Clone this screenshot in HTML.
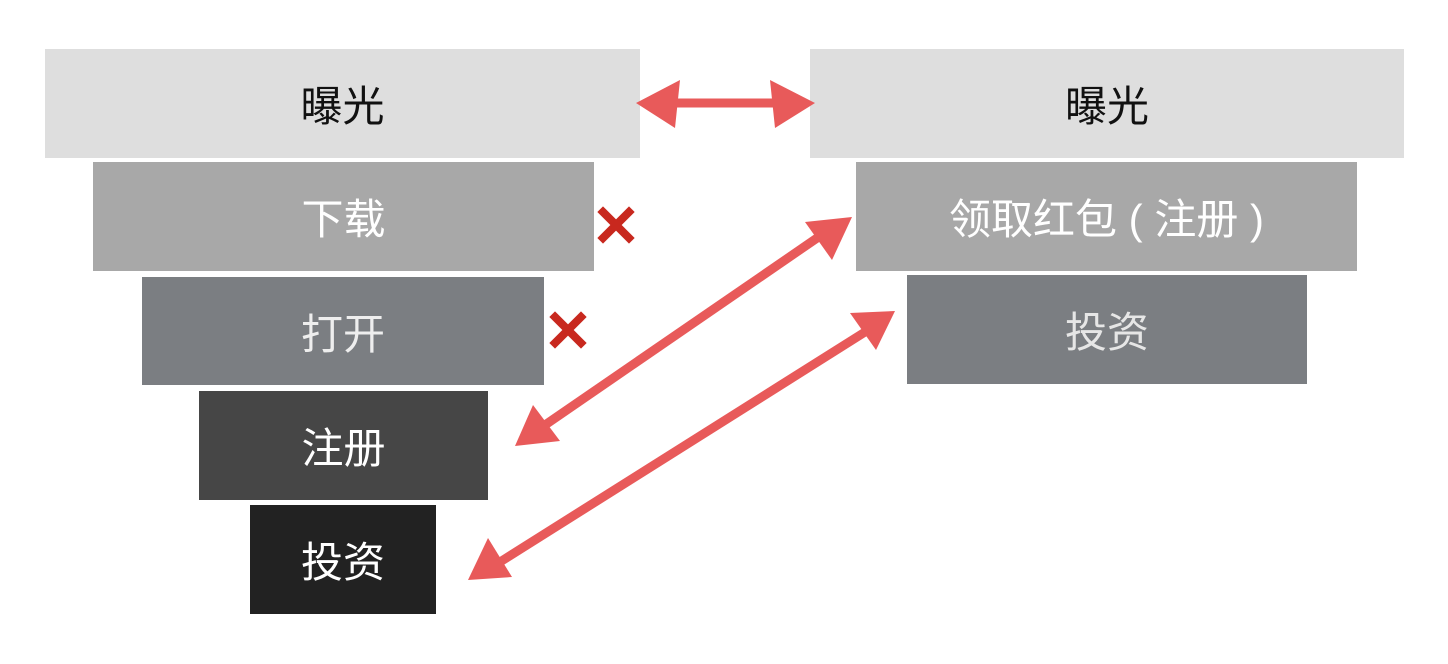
<!DOCTYPE html>
<html><head><meta charset="utf-8"><style>
body{margin:0;width:1448px;height:664px;background:#fff;position:relative;overflow:hidden;font-family:"Liberation Sans","Noto Sans CJK SC",sans-serif}
.b{position:absolute;display:flex;align-items:center;justify-content:center;font-size:42px;color:#fff}
</style></head><body>
<div class="b" style="left:45px;top:49px;width:595px;height:109px;background:#dedede;color:#111">曝光</div>
<div class="b" style="left:93px;top:162px;width:501px;height:109px;background:#a8a8a8">下载</div>
<div class="b" style="left:142px;top:277px;width:402px;height:108px;background:#7b7e82;color:#eee">打开</div>
<div class="b" style="left:199px;top:391px;width:289px;height:109px;background:#464646">注册</div>
<div class="b" style="left:250px;top:505px;width:186px;height:109px;background:#222">投资</div>
<div class="b" style="left:810px;top:49px;width:594px;height:109px;background:#dedede;color:#111">曝光</div>
<div class="b" style="left:856px;top:162px;width:501px;height:109px;background:#a8a8a8">领取红包 ( 注册 )</div>
<div class="b" style="left:907px;top:275px;width:400px;height:109px;background:#7b7e82;color:#e6e6e6">投资</div>
<svg width="1448" height="664" style="position:absolute;left:0;top:0">
<g stroke="#c8281e" stroke-width="8" stroke-linecap="square">
<line x1="603" y1="212" x2="629" y2="238"/><line x1="629" y1="212" x2="603" y2="238"/>
<line x1="555" y1="317" x2="581" y2="343"/><line x1="581" y1="317" x2="555" y2="343"/>
</g>
<g stroke="#e85a5a" stroke-width="9" fill="#e85a5a">
<line x1="670" y1="103" x2="780" y2="103"/>
<line x1="545" y1="425" x2="820" y2="236"/>
<line x1="500" y1="562" x2="865" y2="332"/>
</g>
<g fill="#e85a5a">
<polygon points="636,103 680,80 675,128"/>
<polygon points="815,103 770,80 775,128"/>
<polygon points="852,217 805,222 832,260"/>
<polygon points="515,446 533,405 560,441"/>
<polygon points="895,311 850,313 876,350"/>
<polygon points="468,580 488,538 512,577"/>
</g>
</svg>
</body></html>
